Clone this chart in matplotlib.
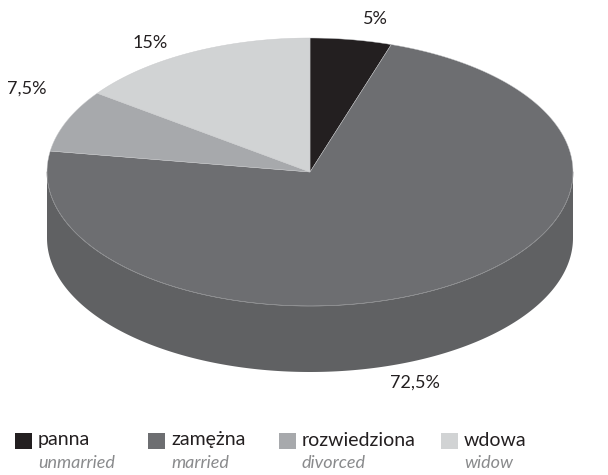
import matplotlib
matplotlib.use('Agg')
import matplotlib.pyplot as plt
import numpy as np
from matplotlib.patches import Polygon, Rectangle

plt.rcParams['font.family'] = ['Lato', 'DejaVu Sans']

# data
labels = ['panna', 'zamężna', 'rozwiedziona', 'wdowa']
labels_en = ['unmarried', 'married', 'divorced', 'widow']
shares = [5, 72.5, 7.5, 15]
share_text = ['5%', '72,5%', '7,5%', '15%']
colors = ['#231f20', '#6d6e71', '#a7a9ac', '#d1d3d4']
side_colors = ['#1a1718', '#606163', '#8f9194', '#b5b7b9']

# pie geometry in pixels
cx, cy, rx, ry, depth = 310, 172, 263, 134, 66

fig = plt.figure(figsize=(6.08, 4.75), dpi=100)
ax = fig.add_axes([0, 0, 1, 1])
ax.set_xlim(0, 608)
ax.set_ylim(475, 0)
ax.axis('off')


def arc(a0, a1, dy=0, n=200):
    a = np.linspace(a0, a1, n)
    return np.column_stack([cx + rx * np.cos(a), cy - ry * np.sin(a) + dy])


# slice angles, clockwise from 12 o'clock
bounds = []
start = np.pi / 2
for s in shares:
    end = start - s / 100 * 2 * np.pi
    bounds.append((start, end))
    start = end

# side walls (front half only)
for (a0, a1), c in zip(bounds, side_colors):
    for k in (-1, 0, 1):
        lo = max(a1 + 2 * np.pi * k, -np.pi)
        hi = min(a0 + 2 * np.pi * k, 0)
        if hi > lo:
            top = arc(hi, lo)
            bot = arc(lo, hi, depth)
            ax.add_patch(Polygon(np.vstack([top, bot]), closed=True,
                                 facecolor=c, edgecolor='none'))

# top face
for (a0, a1), c in zip(bounds, colors):
    pts = np.vstack([[cx, cy], arc(a0, a1)])
    ax.add_patch(Polygon(pts, closed=True, facecolor=c,
                         edgecolor='#c8c9cb', linewidth=0.3))
ax.plot(*arc(-np.pi, 0).T, color='#838486', lw=0.5)

# value labels
label_pos = [(375, 19), (415, 383), (27, 89), (150, 43)]
for (x, y), t in zip(label_pos, share_text):
    ax.text(x, y, t, ha='center', va='center', fontsize=13, color='#231f20')

# legend
leg_x = [15, 148, 279, 441]
for x, c, l, e in zip(leg_x, colors, labels, labels_en):
    ax.add_patch(Rectangle((x, 433), 17, 16, facecolor=c, edgecolor='none'))
    ax.text(x + 23, 440, l, ha='left', va='center', fontsize=14, color='#231f20')
    ax.text(x + 23, 463, e, ha='left', va='center', fontsize=13,
            style='italic', color='#8a8b8d')

fig.savefig('out.png', dpi=100)
